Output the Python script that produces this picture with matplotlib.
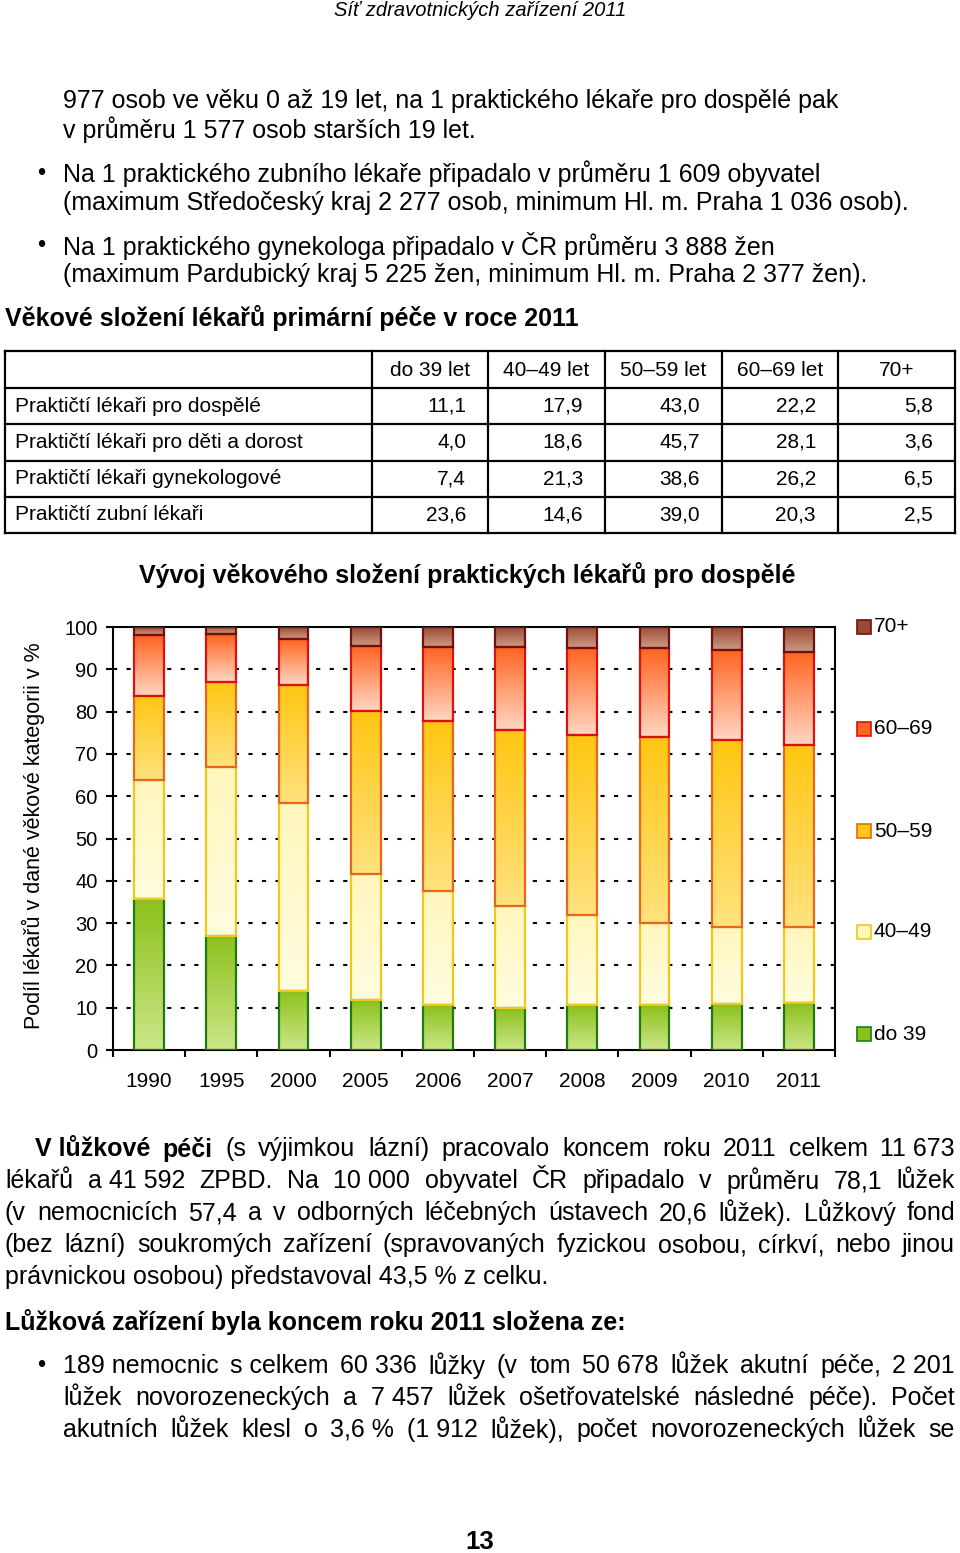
import numpy as np
import matplotlib
matplotlib.use('Agg')
import matplotlib.pyplot as plt
from matplotlib import font_manager
from matplotlib.colors import LinearSegmentedColormap
from matplotlib.patches import Rectangle

W, H = 960, 1553

# chart data (share of doctors in age group, %)
years = ['1990', '1995', '2000', '2005', '2006', '2007', '2008', '2009', '2010', '2011']
do39 = [35.6, 27.0, 14.0, 11.8, 10.6, 9.9, 10.6, 10.6, 10.8, 11.1]
a40_49 = [28.3, 39.9, 44.5, 29.8, 27.0, 24.2, 21.3, 19.5, 18.3, 17.9]
a50_59 = [19.9, 20.2, 27.7, 38.6, 40.2, 41.5, 42.5, 44.0, 44.2, 43.0]
a60_69 = [14.4, 11.2, 11.0, 15.4, 17.5, 19.7, 20.6, 20.9, 21.3, 22.2]
a70 = [1.8, 1.7, 2.8, 4.4, 4.7, 4.7, 5.0, 5.0, 5.4, 5.8]
series_names = ['do 39', '40–49', '50–59', '60–69', '70+']

# table data
table_cols = ['do 39 let', '40–49 let', '50–59 let', '60–69 let', '70+']
table_rows = ['Praktičtí lékaři pro dospělé', 'Praktičtí lékaři pro děti a dorost',
              'Praktičtí lékaři gynekologové', 'Praktičtí zubní lékaři']
table_vals = [['11,1', '17,9', '43,0', '22,2', '5,8'],
              ['4,0', '18,6', '45,7', '28,1', '3,6'],
              ['7,4', '21,3', '38,6', '26,2', '6,5'],
              ['23,6', '14,6', '39,0', '20,3', '2,5']]

# (bottom colour, top colour, edge colour) for each series
styles = [('#cce688', '#8cc21c', '#1f7a12'),
          ('#fffde0', '#fff6bc', '#f0c81a'),
          ('#ffe27e', '#ffc612', '#e8661e'),
          ('#ffd6c2', '#ff6420', '#dc1010'),
          ('#cc9a84', '#9c4a34', '#701010')]

FONT = 'Liberation Sans'
names = {f.name for f in font_manager.fontManager.ttflist}
NARROW = 'Liberation Sans Narrow' if 'Liberation Sans Narrow' in names else None

plt.rcParams['font.family'] = FONT

fig = plt.figure(figsize=(W / 100, H / 100), dpi=100)
renderer = fig.canvas.get_renderer()

BODY = 18


def fx(x):
    return x / W


def fy(y):
    return 1 - y / H


def put(x, y, s, size=BODY, **kw):
    kw.setdefault('va', 'center')
    return fig.text(fx(x), fy(y), s, fontsize=size, **kw)


#lay out one line of words so it fills x0..x1
def justify(tokens, x0, x1, y, size=BODY, bold=0):
    texts = []
    for i, t in enumerate(tokens):
        texts.append(put(0, y, t, size, fontweight='bold' if i < bold else 'normal'))
    widths = [t.get_window_extent(renderer).width for t in texts]
    gap = (x1 - x0 - sum(widths)) / (len(texts) - 1)
    x = x0
    for t, w in zip(texts, widths):
        t.set_x(fx(x))
        x += w + gap


# page header
if NARROW:
    put(480, 10, 'Síť zdravotnických zařízení 2011', 16, ha='center', style='italic', family=NARROW)
else:
    put(480, 10, 'Síť zdravotnických zařízení 2011', 14.5, ha='center', style='italic')

# text above the table
put(63, 101, '977 osob ve věku 0 až 19 let, na 1 praktického lékaře pro dospělé pak')
put(63, 130, 'v průměru 1 577 osob starších 19 let.')
put(37, 174, '•', 17)
put(63, 174, 'Na 1 praktického zubního lékaře připadalo v průměru 1 609 obyvatel')
put(63, 203, '(maximum Středočeský kraj 2 277 osob, minimum Hl. m. Praha 1 036 osob).')
put(37, 246, '•', 17)
put(63, 246, 'Na 1 praktického gynekologa připadalo v ČR průměru 3 888 žen')
put(63, 275, '(maximum Pardubický kraj 5 225 žen, minimum Hl. m. Praha 2 377 žen).')
put(5, 318, 'Věkové složení lékařů primární péče v roce 2011', 18, fontweight='bold')

# table
col_x = [5, 372, 488, 605, 722, 838, 955]
row_y = [351, 388, 424, 461, 497, 533]
for yy in row_y:
    fig.add_artist(plt.Line2D([fx(5), fx(955)], [fy(yy), fy(yy)], color='black', lw=1.6))
for xx in col_x:
    fig.add_artist(plt.Line2D([fx(xx), fx(xx)], [fy(351), fy(533)], color='black', lw=1.6))
for j, c in enumerate(table_cols):
    put((col_x[j + 1] + col_x[j + 2]) / 2, 370, c, 15, ha='center')
for i, r in enumerate(table_rows):
    yc = (row_y[i + 1] + row_y[i + 2]) / 2
    put(15, yc, r, 15)
    for j, v in enumerate(table_vals[i]):
        put(col_x[j + 2] - 22, yc, v, 15, ha='right')

# chart
put(467, 575, 'Vývoj věkového složení praktických lékařů pro dospělé', 18, ha='center', fontweight='bold')

ax = fig.add_axes([fx(113), fy(1050), (835 - 113) / W, (1050 - 627) / H])
x = np.arange(len(years))
bottom = np.zeros(len(years))
for vals, (c0, c1, ec) in zip([do39, a40_49, a50_59, a60_69, a70], styles):
    cm = LinearSegmentedColormap.from_list('g', [c0, c1])
    bars = ax.bar(x, vals, 0.41, bottom=bottom, facecolor='none', edgecolor=ec, linewidth=1.6, zorder=3)
    for p in bars:
        ax.imshow(np.linspace(0, 1, 64).reshape(-1, 1), cmap=cm, origin='lower', aspect='auto',
                  extent=(p.get_x(), p.get_x() + p.get_width(), p.get_y(), p.get_y() + p.get_height()),
                  zorder=2)
    bottom += np.array(vals)

ax.set_xlim(-0.5, len(years) - 0.5)
ax.set_ylim(0, 100)
for g in range(10, 100, 10):
    ax.axhline(g, color='black', lw=1.5, linestyle=(0, (2, 4.5)), zorder=1)
for s in ax.spines.values():
    s.set_linewidth(1.5)
ax.set_yticks(range(0, 101, 10))
ax.tick_params(axis='y', direction='out', length=5, width=1.5, labelsize=14.5, pad=6)
ax.set_xticks(x)
ax.set_xticklabels(years)
ax.set_xticks(np.arange(-0.5, len(years), 1), minor=True)
ax.tick_params(axis='x', which='major', length=0, labelsize=15, pad=16)
ax.tick_params(axis='x', which='minor', direction='out', length=5, width=1.5)

put(33, 836, 'Podíl lékařů v dané věkové kategorii v %', 15.5, ha='center', rotation=90)

# legend, top entry is 70+
leg_y = [627, 729, 831, 932, 1034]
for i in range(5):
    yy = leg_y[i]
    c0, c1, ec = styles[4 - i]
    fig.add_artist(Rectangle((fx(857), fy(yy + 7)), 14 / W, 14 / H, facecolor=c1, edgecolor=ec, lw=1.2))
    put(874, yy, series_names[4 - i], 15)

# text below the chart
justify(['V lůžkové', 'péči', '(s', 'výjimkou', 'lázní)', 'pracovalo', 'koncem', 'roku', '2011',
         'celkem', '11 673'], 35, 955, 1149, bold=2)
justify(['lékařů', 'a 41 592', 'ZPBD.', 'Na', '10 000', 'obyvatel', 'ČR', 'připadalo', 'v', 'průměru',
         '78,1', 'lůžek'], 5, 955, 1181)
justify(['(v', 'nemocnicích', '57,4', 'a', 'v', 'odborných', 'léčebných', 'ústavech', '20,6', 'lůžek).',
         'Lůžkový', 'fond'], 5, 955, 1213)
justify(['(bez', 'lázní)', 'soukromých', 'zařízení', '(spravovaných', 'fyzickou', 'osobou,', 'církví,',
         'nebo', 'jinou'], 5, 955, 1245)
put(5, 1277, 'právnickou osobou) představoval 43,5 % z celku.')

put(5, 1322, 'Lůžková zařízení byla koncem roku 2011 složena ze:', 18, fontweight='bold')
put(37, 1366, '•', 17)
justify(['189 nemocnic', 's celkem', '60 336', 'lůžky', '(v', 'tom', '50 678', 'lůžek', 'akutní', 'péče,',
         '2 201'], 63, 955, 1366)
justify(['lůžek', 'novorozeneckých', 'a', '7 457', 'lůžek', 'ošetřovatelské', 'následné', 'péče).',
         'Počet'], 63, 955, 1398)
justify(['akutních', 'lůžek', 'klesl', 'o', '3,6 %', '(1 912', 'lůžek),', 'počet', 'novorozeneckých',
         'lůžek', 'se'], 63, 955, 1430)

put(480, 1542, '13', 18.5, ha='center', fontweight='bold')

fig.savefig('out.png', dpi=100)
